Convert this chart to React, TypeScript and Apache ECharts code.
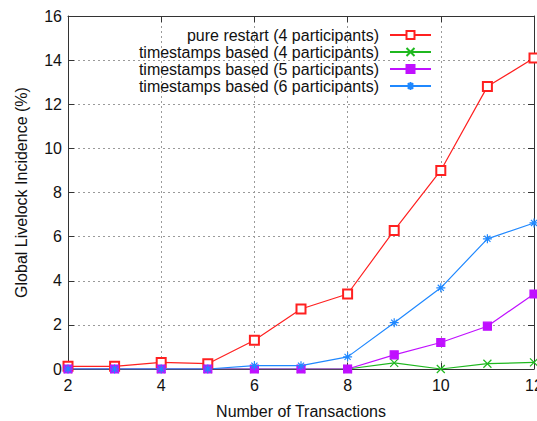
import React, { useEffect, useRef } from "react";
import * as echarts from "echarts";

// Number of transactions per run (x axis)
const transactions = [2, 3, 4, 5, 6, 7, 8, 9, 10, 11, 12];

// Global livelock incidence in percent, one array per protocol variant
const pureRestart4 = [0.12, 0.12, 0.3, 0.24, 1.3, 2.72, 3.4, 6.28, 9.0, 12.8, 14.1];
const timestamps4 = [0, 0, 0, 0, 0, 0, 0, 0.28, 0, 0.24, 0.3];
const timestamps5 = [0, 0, 0, 0, 0, 0, 0, 0.64, 1.2, 1.94, 3.4];
const timestamps6 = [0, 0, 0, 0, 0.15, 0.15, 0.55, 2.1, 3.68, 5.9, 6.62];

const seriesNames = [
  "pure restart (4 participants)",
  "timestamps based (4 participants)",
  "timestamps based (5 participants)",
  "timestamps based (6 participants)",
];

const xTicks = { min: 2, max: 12, step: 2 };
const yTicks = { min: 0, max: 16, step: 2 };

const FONT = "'Liberation Sans', Arial, Helvetica, sans-serif";
const INK = "#111";
const FRAME = "#333";

const CROSS = "path://M0,0L10,10M10,0L0,10";
const STAR = "path://M5,0L5,10M0,5L10,5M1.6,1.6L8.4,8.4M8.4,1.6L1.6,8.4";

const pairs = (ys: number[]) => transactions.map((x, i) => [x, ys[i]]);

export default function App() {
  const ref = useRef<HTMLDivElement>(null);

  useEffect(() => {
    if (!ref.current) return;
    const chart = echarts.init(ref.current, undefined, { renderer: "svg" });

    const gridLine = { lineStyle: { color: "#9a9a9a", type: [2, 3] as any, width: 1 } };
    const frameLine = { show: true, onZero: false, lineStyle: { color: FRAME, width: 1 } };
    const innerTick = { show: true, inside: true, length: 6, lineStyle: { color: FRAME, width: 1 } };

    const line = (
      name: string,
      ys: number[],
      color: string,
      symbol: string,
      size: number,
      fill: string
    ) => ({
      name,
      type: "line",
      data: pairs(ys),
      symbol,
      symbolSize: size,
      showAllSymbol: true,
      lineStyle: { color, width: 1.2 },
      itemStyle: { color: fill, borderColor: color, borderWidth: 1.2 },
      emphasis: { disabled: true },
    });

    chart.setOption({
      animation: false,
      backgroundColor: "#fff",
      textStyle: { fontFamily: FONT, color: INK },
      grid: {
        left: 68,
        right: 3,
        top: 16,
        bottom: 52,
        containLabel: false,
        outerBoundsMode: "none",
      },
      legend: {
        orient: "vertical",
        align: "right",
        right: 105,
        top: 27,
        itemWidth: 41,
        itemHeight: 10,
        itemGap: 1,
        padding: 0,
        selectedMode: false,
        textStyle: {
          fontFamily: FONT,
          fontSize: 16,
          color: INK,
          lineHeight: 16,
          padding: [0, 6, 0, 0],
        },
        data: seriesNames,
      },
      xAxis: [
        {
          type: "value",
          min: xTicks.min,
          max: xTicks.max,
          interval: xTicks.step,
          name: "Number of Transactions",
          nameLocation: "middle",
          nameGap: 34,
          nameTextStyle: { fontFamily: FONT, fontSize: 16, color: INK },
          axisLine: frameLine,
          axisTick: innerTick,
          axisLabel: { fontFamily: FONT, fontSize: 16, color: INK, margin: 8 },
          splitLine: { show: true, ...gridLine },
        },
        {
          type: "value",
          position: "top",
          min: xTicks.min,
          max: xTicks.max,
          interval: xTicks.step,
          axisLine: frameLine,
          axisTick: innerTick,
          axisLabel: { show: false },
          splitLine: { show: false },
        },
      ],
      yAxis: [
        {
          type: "value",
          min: yTicks.min,
          max: yTicks.max,
          interval: yTicks.step,
          name: "Global Livelock Incidence (%)",
          nameLocation: "middle",
          nameGap: 39,
          nameTextStyle: { fontFamily: FONT, fontSize: 16, color: INK },
          axisLine: frameLine,
          axisTick: innerTick,
          axisLabel: { fontFamily: FONT, fontSize: 16, color: INK, margin: 6 },
          splitLine: { show: true, ...gridLine },
        },
        {
          type: "value",
          position: "right",
          min: yTicks.min,
          max: yTicks.max,
          interval: yTicks.step,
          axisLine: frameLine,
          axisTick: innerTick,
          axisLabel: { show: false },
          splitLine: { show: false },
        },
      ],
      series: [
        line(seriesNames[0], pureRestart4, "#ff2020", "emptyRect", 9, "#ff2020"),
        line(seriesNames[1], timestamps4, "#1fb81f", CROSS, 8, "#1fb81f"),
        line(seriesNames[2], timestamps5, "#c010ff", "rect", 8, "#c010ff"),
        line(seriesNames[3], timestamps6, "#1f88ff", STAR, 9, "#1f88ff"),
      ],
    });

    return () => chart.dispose();
  }, []);

  return (
    <div
      ref={ref}
      style={{ position: "fixed", left: 0, top: 0, width: 537, height: 421 }}
    />
  );
}
